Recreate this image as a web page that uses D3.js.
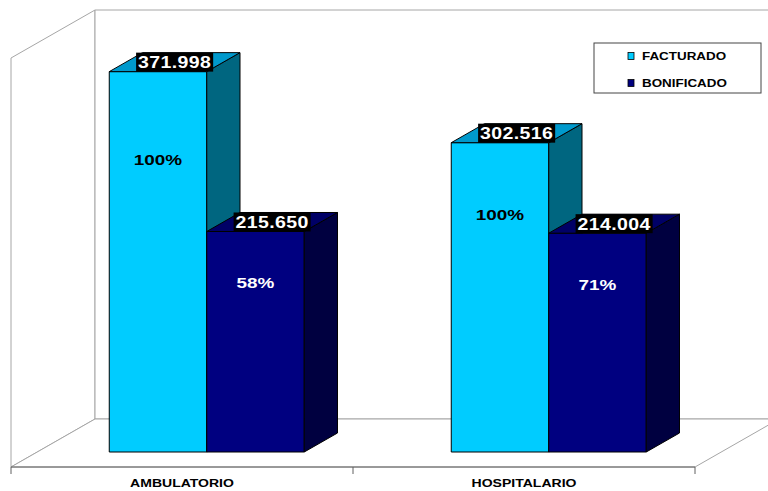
<!DOCTYPE html>
<html>
<head>
<meta charset="utf-8">
<script src="https://cdn.jsdelivr.net/npm/d3@7"></script>
<style>
  html, body { margin: 0; padding: 0; background: #fff; }
  svg { display: block; font-family: "Liberation Sans", Arial, sans-serif; }
</style>
</head>
<body>
<svg id="chart" width="768" height="491"></svg>
<script>
// ---- data ----
const categories = ["AMBULATORIO", "HOSPITALARIO"];
const seriesNames = ["FACTURADO", "BONIFICADO"];
const facturado = [371998, 302516];
const bonificado = [215650, 214004];
const yMax = 400000;

// ---- style ----
const colors = {
  FACTURADO: { front: "#00CCFF", top: "#0099CC", side: "#006680" },
  BONIFICADO: { front: "#000080", top: "#000066", side: "#000040" }
};
const pctColor = { FACTURADO: "#000", BONIFICADO: "#fff" };

const svg = d3.select("#chart");
const floorY = 467, floorLeft = 11, floorRight = 695;
const depthDX = 84, depthDY = -48;
const d0 = 15 / 48, d1 = 34 / 48;
const stretch = 1.22;

const y = d3.scaleLinear().domain([0, yMax]).range([0, 409]);
const x = d3.scaleBand().domain(categories).range([floorLeft, floorRight]);
const xSub = d3.scaleBand().domain(seriesNames).range([-1.5, x.bandwidth() - 1.5]).paddingOuter(0.754).paddingInner(0);

function P(xf, d, h) { return [xf + d * depthDX, floorY + d * depthDY - h]; }
const line = pts => "M" + pts.map(p => p.join(",")).join("L") + "Z";

const fmt = d3.formatLocale({ decimal: ",", thousands: ".", grouping: [3], currency: ["", ""] }).format(",");

// ---- walls ----
const wallH = y(yMax);
const walls = svg.append("g").attr("fill", "#fff").attr("stroke", "#a6a6a6").attr("stroke-width", 1);
walls.append("path").attr("d", line([P(floorLeft, 0, 0), P(floorLeft, 1, 0), P(floorLeft, 1, wallH), P(floorLeft, 0, wallH)]));
walls.append("path").attr("d", line([P(floorLeft, 1, 0), P(floorRight, 1, 0), P(floorRight, 1, wallH), P(floorLeft, 1, wallH)]));
walls.append("path").attr("d", line([P(floorLeft, 0, 0), P(floorRight, 0, 0), P(floorRight, 1, 0), P(floorLeft, 1, 0)]));

// front axis line + ticks
svg.append("line").attr("x1", floorLeft).attr("x2", floorRight).attr("y1", floorY).attr("y2", floorY)
  .attr("stroke", "#606060");
const tickXs = [floorLeft].concat(categories.map(c => x(c) + x.bandwidth()));
svg.selectAll(".tk").data(tickXs).join("line")
  .attr("x1", d => d).attr("x2", d => d).attr("y1", floorY).attr("y2", floorY + 7)
  .attr("stroke", "#606060");

function sText(g, x0, y0, txt, size, fill, anchor) {
  return g.append("text")
    .attr("transform", `translate(${x0},${y0}) scale(${stretch},1)`)
    .attr("text-anchor", anchor || "middle")
    .attr("font-size", size).attr("font-weight", "bold").attr("fill", fill)
    .text(txt);
}

// category labels
categories.forEach(c => sText(svg, x(c) + x.bandwidth() / 2, 487, c, 11.5, "#000"));

// ---- bars ----
const rows = categories.map((c, i) => ({ cat: c, FACTURADO: facturado[i], BONIFICADO: bonificado[i] }));
const barsG = svg.append("g").attr("stroke", "#000").attr("stroke-width", 1).attr("stroke-linejoin", "round");
const labelsG = svg.append("g");
rows.forEach(r => {
  seriesNames.forEach(s => {
    const v = r[s];
    const xl = x(r.cat) + xSub(s), xr = xl + xSub.bandwidth();
    const h = y(v);
    const c = colors[s];
    barsG.append("path").attr("fill", c.front).attr("d", line([P(xl, d0, 0), P(xr, d0, 0), P(xr, d0, h), P(xl, d0, h)]));
    barsG.append("path").attr("fill", c.side).attr("d", line([P(xr, d0, 0), P(xr, d1, 0), P(xr, d1, h), P(xr, d0, h)]));
    barsG.append("path").attr("fill", c.top).attr("d", line([P(xl, d0, h), P(xr, d0, h), P(xr, d1, h), P(xl, d1, h)]));

    // percentage label
    const pct = Math.round(v / r.FACTURADO * 100) + "%";
    const pf = P((xl + xr) / 2, d0, y(v * 0.77));
    sText(labelsG, pf[0], pf[1] + 6, pct, 15.5, pctColor[s]);

    // value label on top face
    const tf = P((xl + xr) / 2, (d0 + d1) / 2, h);
    const g = labelsG.append("g");
    const t = sText(g, tf[0], tf[1] + 6, fmt(v), 16, "#fff");
    t.attr("letter-spacing", 0.3);
    const w = t.node().getBBox().width * stretch;
    const boxH = (d1 - d0) * -depthDY;
    g.insert("rect", "text").attr("x", tf[0] - w / 2 - 2).attr("y", tf[1] - boxH / 2)
      .attr("width", w + 4).attr("height", boxH).attr("fill", "#000");
  });
});

// ---- legend ----
const lg = svg.append("g");
lg.append("rect").attr("x", 594).attr("y", 43).attr("width", 167).attr("height", 50)
  .attr("fill", "#fff").attr("stroke", "#444");
seriesNames.forEach((s, i) => {
  const cy = 56 + i * 27;
  lg.append("rect").attr("x", 628).attr("y", cy - 3.5).attr("width", 6).attr("height", 7)
    .attr("fill", colors[s].front).attr("stroke", "#000").attr("stroke-width", 0.8);
  sText(lg, 642, cy + 4, s, 11, "#000", "start");
});
</script>
</body>
</html>
